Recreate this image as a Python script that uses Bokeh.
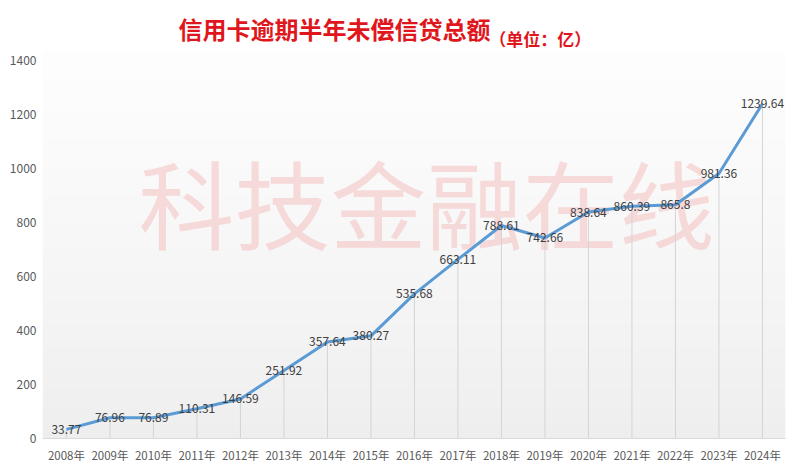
import numpy as np
from bokeh.plotting import figure
from bokeh.models import ColumnDataSource, FixedTicker, Range1d
from bokeh.core.properties import value
from bokeh.embed import file_html
from bokeh.resources import INLINE

years = ["2008年", "2009年", "2010年", "2011年", "2012年", "2013年", "2014年", "2015年",
         "2016年", "2017年", "2018年", "2019年", "2020年", "2021年", "2022年", "2023年", "2024年"]
amounts = [33.77, 76.96, 76.89, 110.31, 146.59, 251.92, 357.64, 380.27,
           535.68, 663.11, 788.61, 742.66, 838.64, 860.39, 865.8, 981.36, 1239.64]
y_ticks = [0, 200, 400, 600, 800, 1000, 1200, 1400]
title_main = "信用卡逾期半年未偿信贷总额"
title_unit = "（单位：亿）"
watermark = "科技金融在线"

FONT = "Noto Sans CJK SC"
idx = list(range(len(years)))
src = ColumnDataSource(dict(x=idx, y=amounts, zero=[0] * len(idx),
                            label=[str(v) for v in amounts]))

# scale: 43.5 px per category, 0.27 px per unit
X0, X1 = -0.55, 16.53
Y0, YPLOT, Y1 = 0, 1437, 1622

p = figure(frame_width=743, frame_height=438, output_backend="svg", toolbar_location=None,
           x_range=Range1d(X0, X1), y_range=Range1d(Y0, Y1),
           min_border_left=42, min_border_right=7, min_border_top=0, min_border_bottom=27)
p.background_fill_color = "white"
p.border_fill_color = "white"
p.outline_line_color = None
p.xgrid.visible = False
p.ygrid.visible = False

# vertical gradient background in plot area
n = 256
img = np.empty((n, 2), dtype=np.uint32)
view = img.view(dtype=np.uint8).reshape((n, 2, 4))
t = np.linspace(0, 1, n)  # 0 bottom, 1 top
g = (238 + (254 - 238) * t ** 0.8).astype(np.uint8)
for j in range(2):
    view[:, j, 0] = g
    view[:, j, 1] = g
    view[:, j, 2] = g
    view[:, j, 3] = 255
p.image_rgba(image=[img], x=X0, y=Y0, dw=X1 - X0, dh=YPLOT - Y0)

# watermark
p.text(x=[8.28], y=[880], text=[watermark], text_font=value(FONT),
       text_font_size="96px", text_color="#f08080", text_alpha=0.26,
       text_align="center", text_baseline="middle")

# drop lines
p.segment(x0="x", y0="zero", x1="x", y1="y", source=src, line_color="#d4d4d4", line_width=1)

# series line
p.line(x="x", y="y", source=src, line_color="#5b9bd5", line_width=3)

# data labels
p.text(x="x", y="y", text="label", source=src, text_font=value(FONT),
       text_font_size="12px", text_color="#404040", text_align="center",
       text_baseline="middle")

# titles (inside the frame's upper band)
p.text(x=[2.575], y=[1517], text=[title_main], text_font=value(FONT), text_font_size="24px",
       text_font_style="bold", text_color="#e0161d", text_align="left", text_baseline="middle")
p.text(x=[9.72], y=[1483], text=[title_unit], text_font=value(FONT), text_font_size="17px",
       text_font_style="bold", text_color="#e0161d", text_align="left", text_baseline="middle")

# axes
p.xaxis.ticker = FixedTicker(ticks=idx)
p.xaxis.major_label_overrides = {i: years[i] for i in idx}
p.xaxis.axis_line_color = "#d9d9d9"
p.xaxis.major_tick_line_color = None
p.xaxis.minor_tick_line_color = None
p.xaxis.major_tick_out = 0
p.xaxis.major_tick_in = 0
p.xaxis.major_label_standoff = 8
p.xaxis.major_label_text_font = FONT
p.xaxis.major_label_text_font_size = "11.5px"
p.xaxis.major_label_text_color = "#595959"

p.yaxis.ticker = FixedTicker(ticks=y_ticks)
p.yaxis.axis_line_color = None
p.yaxis.major_tick_line_color = None
p.yaxis.minor_tick_line_color = None
p.yaxis.major_tick_out = 0
p.yaxis.major_tick_in = 0
p.yaxis.major_label_standoff = 6
p.yaxis.major_label_text_font = FONT
p.yaxis.major_label_text_font_size = "12px"
p.yaxis.major_label_text_color = "#595959"

open("out.html", "w").write(file_html(p, INLINE))
